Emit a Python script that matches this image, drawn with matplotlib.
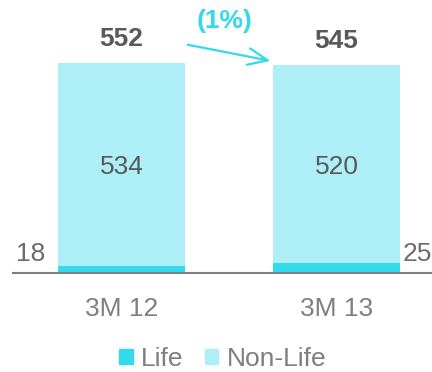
import matplotlib.pyplot as plt
from matplotlib.patches import Patch

periods = ["3M 12", "3M 13"]
life = [18, 25]
non_life = [534, 520]
totals = [552, 545]
change_label = "(1%)"

LIFE_COL = "#33DAEC"
NONLIFE_COL = "#AEEFF7"
DARK = "#595959"
GREY = "#7F7F7F"

plt.rcParams['font.family'] = ['Liberation Sans', 'DejaVu Sans']
FS = 19

fig = plt.figure(figsize=(4.32, 3.72), dpi=100)
ax = fig.add_axes([13 / 432, (372 - 273) / 372, 1 - 13 / 432, 273 / 372])

x = list(range(len(periods)))
w = 0.59
ax.bar(x, life, width=w, color=LIFE_COL, label="Life")
ax.bar(x, non_life, width=w, bottom=life, color=NONLIFE_COL, label="Non-Life")

ax.set_xlim(-0.505, 1.444)
ax.set_ylim(0, 716)

for i in x:
    # totals above bars
    ax.annotate(str(totals[i]), (i, totals[i]), xytext=(0, 12), textcoords="offset pixels",
                ha="center", va="bottom", fontsize=FS, fontweight="bold", color=DARK)
    # non-life value inside
    ax.annotate(str(non_life[i]), (i, life[i] + non_life[i] / 2), xytext=(0, -3),
                textcoords="offset pixels", ha="center", va="center",
                fontsize=FS, color=DARK)

# life values outside the bars
ax.annotate(str(life[0]), (0 - w / 2, 0), xytext=(-13, 7), textcoords="offset pixels",
            ha="right", va="bottom", fontsize=FS, color="#6B6B6B")
ax.annotate(str(life[1]), (1 + w / 2, 0), xytext=(3, 7), textcoords="offset pixels",
            ha="left", va="bottom", fontsize=FS, color="#6B6B6B")

# change arrow
ax.annotate("", xy=(1 - w / 2, totals[1] + 10), xytext=(w / 2, totals[0] + 48),
            arrowprops=dict(arrowstyle="->,head_length=1.4,head_width=0.6",
                            color=LIFE_COL, lw=1.6), annotation_clip=False)
ax.text(0.48, 662, change_label, ha="center", va="center", fontsize=FS,
        fontweight="bold", color=LIFE_COL, clip_on=False)

ax.set_xticks(x)
ax.set_xticklabels(periods, fontsize=FS, color=GREY)
ax.tick_params(axis="x", length=0, pad=17)
ax.set_yticks([])
for s in ["top", "right", "left"]:
    ax.spines[s].set_visible(False)
ax.spines["bottom"].set_color(GREY)
ax.spines["bottom"].set_linewidth(1.5)

handles = [Patch(color=LIFE_COL, label="Life"), Patch(color=NONLIFE_COL, label="Non-Life")]
leg = fig.legend(handles=handles, loc="center", bbox_to_anchor=(0.516, 0.036), ncol=2,
                 frameon=False, fontsize=FS, handlelength=0.5, handleheight=0.5,
                 handletextpad=0.33, columnspacing=0.8, borderaxespad=0, borderpad=0)
for t in leg.get_texts():
    t.set_color(GREY)

fig.savefig("out.png", dpi=100)
